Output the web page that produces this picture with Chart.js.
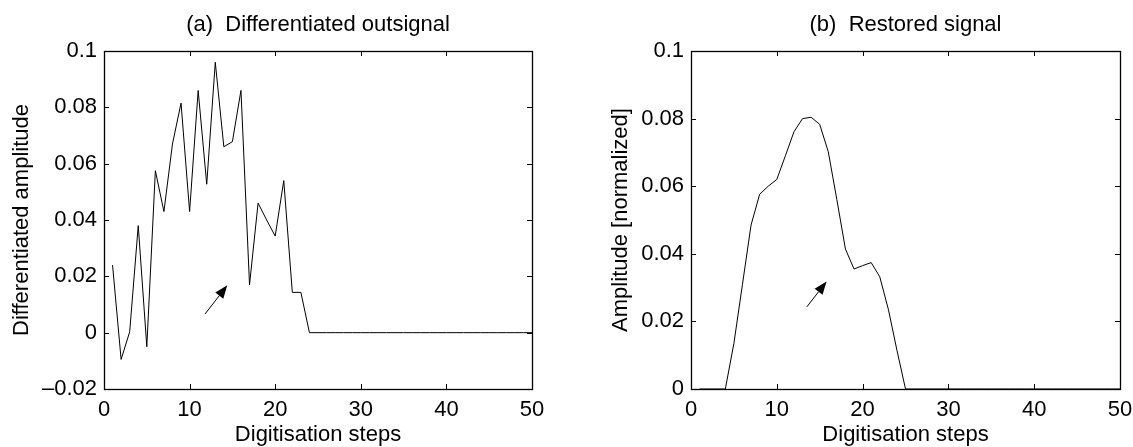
<!DOCTYPE html>
<html>
<head>
<meta charset="utf-8">
<script src="https://cdn.jsdelivr.net/npm/chart.js@4.4.0/dist/chart.umd.min.js"></script>
<style>
  html, body { margin: 0; padding: 0; background: #fff; }
  #wrap { position: relative; width: 1133px; height: 447px; }
  .panel { position: absolute; top: 0; height: 447px; }
  #left { left: 0; width: 566px; }
  #right { left: 566px; width: 567px; }
</style>
</head>
<body>
<div id="wrap">
  <div class="panel" id="left"><canvas id="chartA"></canvas></div>
  <div class="panel" id="right"><canvas id="chartB"></canvas></div>
</div>
<script>
// digitisation step index (x axis)
const steps = [1, 2, 3, 4, 5, 6, 7, 8, 9, 10, 11, 12, 13, 14, 15, 16, 17, 18, 19, 20,
  21, 22, 23, 24, 25, 26, 27, 28, 29, 30, 31, 32, 33, 34, 35, 36, 37, 38, 39, 40,
  41, 42, 43, 44, 45, 46, 47, 48, 49, 50];

// (a) differentiated outsignal
const diffAmp = [0.024, -0.0095, 0.0003, 0.038, -0.005, 0.0575, 0.043, 0.067, 0.0815, 0.043,
  0.086, 0.0527, 0.096, 0.066, 0.0678, 0.086, 0.017, 0.046, 0.040, 0.0343,
  0.054, 0.0143, 0.0143, 0, 0, 0, 0, 0, 0, 0,
  0, 0, 0, 0, 0, 0, 0, 0, 0, 0,
  0, 0, 0, 0, 0, 0, 0, 0, 0, 0];

// (b) restored signal, normalized
const restored = [0, 0, 0, 0, 0.0135, 0.031, 0.0485, 0.0576, 0.060, 0.062,
  0.069, 0.0761, 0.080, 0.0804, 0.0783, 0.0702, 0.056, 0.0414, 0.0355, 0.0365,
  0.0374, 0.0332, 0.0236, 0.0115, 0, 0, 0, 0, 0, 0,
  0, 0, 0, 0, 0, 0, 0, 0, 0, 0,
  0, 0, 0, 0, 0, 0, 0, 0, 0, 0];

const xTicks = [0, 10, 20, 30, 40, 50];
const yTicksA = [-0.02, 0, 0.02, 0.04, 0.06, 0.08, 0.1];
const yTicksB = [0, 0.02, 0.04, 0.06, 0.08, 0.1];

// arrow annotations: [x, y] tail and head in data units
const arrowA = { from: [11.8, 0.0066], to: [14.4, 0.0168] };
const arrowB = { from: [13.5, 0.0243], to: [15.8, 0.0318] };

const FONT = 'Liberation Sans, Arial, Helvetica, sans-serif';
const FS = 22;
const TICK = 5;

function fmt(v) {
  const n = Number(v.toFixed(3));
  if (n === 0) return '0';
  return String(n).replace('-', '\u2013');
}

// axes box with inward tick marks on all four sides
const boxTicks = {
  id: 'boxTicks',
  afterDraw(chart) {
    const { ctx, chartArea: a, scales: { x, y } } = chart;
    ctx.save();
    ctx.strokeStyle = '#000';
    ctx.lineWidth = 1;
    ctx.beginPath();
    x.ticks.forEach(t => {
      const px = Math.round(x.getPixelForValue(t.value)) + 0.5;
      ctx.moveTo(px, a.bottom); ctx.lineTo(px, a.bottom - TICK);
      ctx.moveTo(px, a.top); ctx.lineTo(px, a.top + TICK);
    });
    y.ticks.forEach(t => {
      const py = Math.round(y.getPixelForValue(t.value)) + 0.5;
      ctx.moveTo(a.left, py); ctx.lineTo(a.left + TICK, py);
      ctx.moveTo(a.right, py); ctx.lineTo(a.right - TICK, py);
    });
    ctx.stroke();
    ctx.lineWidth = 1.3;
    ctx.strokeRect(Math.round(a.left) + 0.5, Math.round(a.top) + 0.5,
      Math.round(a.width), Math.round(a.height));
    ctx.restore();
  }
};

// small filled arrow pointing at the feature
const arrowMark = {
  id: 'arrowMark',
  afterDatasetsDraw(chart, args, opts) {
    if (!opts.from) return;
    const { ctx, scales: { x, y } } = chart;
    const x0 = x.getPixelForValue(opts.from[0]), y0 = y.getPixelForValue(opts.from[1]);
    const x1 = x.getPixelForValue(opts.to[0]), y1 = y.getPixelForValue(opts.to[1]);
    const ang = Math.atan2(y1 - y0, x1 - x0);
    const head = 13, half = 5;
    const bx = x1 - head * Math.cos(ang), by = y1 - head * Math.sin(ang);
    ctx.save();
    ctx.strokeStyle = '#000';
    ctx.fillStyle = '#000';
    ctx.lineWidth = 1;
    ctx.beginPath();
    ctx.moveTo(x0, y0);
    ctx.lineTo(bx, by);
    ctx.stroke();
    ctx.beginPath();
    ctx.moveTo(x1, y1);
    ctx.lineTo(bx + half * Math.sin(ang), by - half * Math.cos(ang));
    ctx.lineTo(bx - half * Math.sin(ang), by + half * Math.cos(ang));
    ctx.closePath();
    ctx.fill();
    ctx.restore();
  }
};

function makePanel(canvasId, opts) {
  return new Chart(document.getElementById(canvasId), {
    type: 'line',
    data: {
      datasets: [{
        data: steps.map((s, i) => ({ x: s, y: opts.values[i] })),
        borderColor: '#000',
        borderWidth: 1,
        pointRadius: 0,
        tension: 0,
        fill: false
      }]
    },
    options: {
      responsive: true,
      maintainAspectRatio: false,
      animation: false,
      events: [],
      layout: { padding: { left: 0, right: opts.padRight, top: 0, bottom: 0 } },
      plugins: {
        legend: { display: false },
        tooltip: { enabled: false },
        title: {
          display: true,
          fullSize: false,
          text: opts.title,
          color: '#000',
          font: { family: FONT, size: FS, weight: 'normal', lineHeight: 1.2 },
          padding: { top: 12, bottom: 12.6 }
        },
        arrowMark: opts.arrow
      },
      scales: {
        x: {
          type: 'linear',
          min: 0,
          max: 50,
          afterBuildTicks: s => { s.ticks = xTicks.map(v => ({ value: v })); },
          afterFit: s => {
            s.height = 58;
            s.paddingLeft = 0;
            s.paddingRight = 0;
          },
          grid: { display: false, drawTicks: false },
          border: { display: false },
          ticks: {
            color: '#000',
            padding: 9,
            maxRotation: 0,
            font: { family: FONT, size: FS, lineHeight: 1.1 },
            callback: v => fmt(v)
          },
          title: {
            display: true,
            text: 'Digitisation steps',
            color: '#000',
            font: { family: FONT, size: FS, lineHeight: 1.1 },
            padding: { top: 0, bottom: 0 }
          }
        },
        y: {
          type: 'linear',
          min: opts.yMin,
          max: 0.1,
          afterBuildTicks: s => { s.ticks = opts.yTicks.map(v => ({ value: v })); },
          afterFit: s => { s.width = opts.yWidth; },
          grid: { display: false, drawTicks: false },
          border: { display: false },
          ticks: {
            color: '#000',
            padding: 7,
            font: { family: FONT, size: FS },
            callback: v => fmt(v)
          },
          title: {
            display: true,
            text: opts.yTitle,
            color: '#000',
            font: { family: FONT, size: FS, lineHeight: 1.1 },
            padding: { top: opts.yTitlePad, bottom: 0 }
          }
        }
      }
    },
    plugins: [boxTicks, arrowMark]
  });
}

makePanel('chartA', {
  values: diffAmp,
  title: '(a)  Differentiated outsignal',
  yTitle: 'Differentiated amplitude',
  yMin: -0.02,
  yTicks: yTicksA,
  yWidth: 104,
  yTitlePad: 10,
  padRight: 34,
  arrow: arrowA
});

makePanel('chartB', {
  values: restored,
  title: '(b)  Restored signal',
  yTitle: 'Amplitude [normalized]',
  yMin: 0,
  yTicks: yTicksB,
  yWidth: 125,
  yTitlePad: 43,
  padRight: 13,
  arrow: arrowB
});
</script>
</body>
</html>
